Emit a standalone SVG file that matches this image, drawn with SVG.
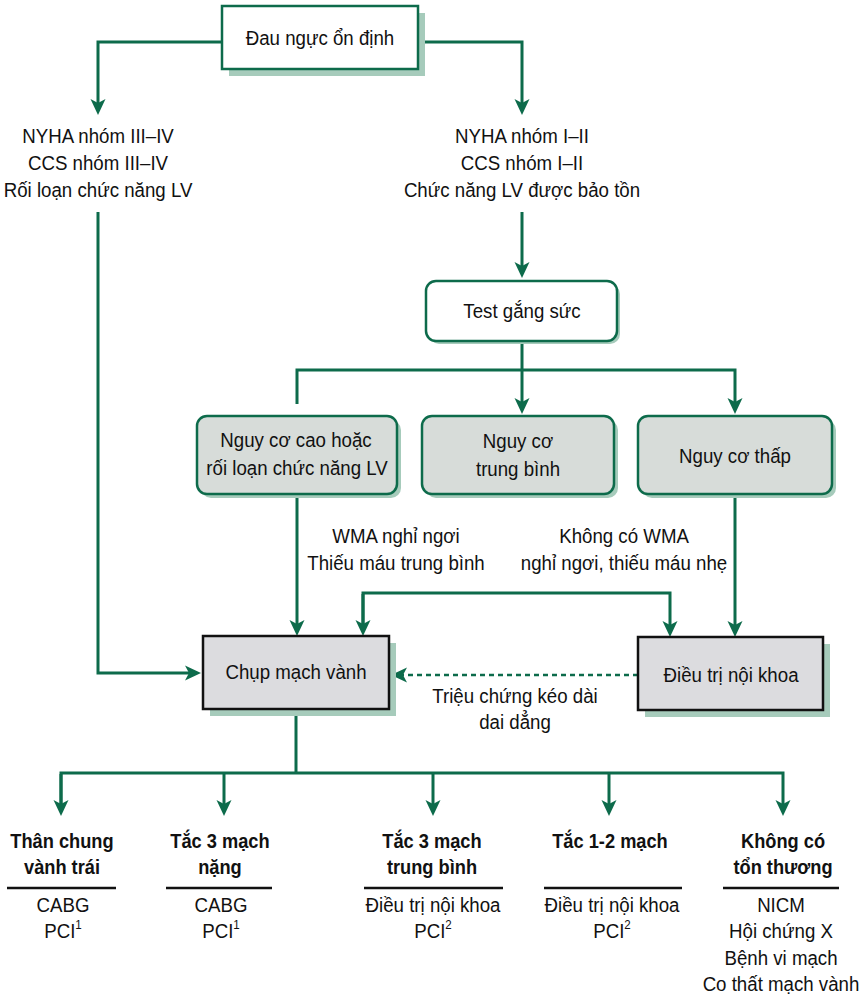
<svg xmlns="http://www.w3.org/2000/svg" width="861" height="1000" viewBox="0 0 861 1000">
<style>
text{font-family:"Liberation Sans",Arial,sans-serif;font-size:21px;fill:#111;text-anchor:middle;transform-box:fill-box;transform-origin:center;transform:scaleX(0.89)}
.b{font-weight:bold;font-size:20.5px}
.sup{font-size:13px}
.ln{fill:none;stroke:#0d6b4b;stroke-width:3}
.dash{fill:none;stroke:#0d6b4b;stroke-width:2.5;stroke-dasharray:5 4}
.sh{fill:#a6cbbb}
.gb{stroke:#0d6b4b;stroke-width:2.5}
.kb{fill:#dcdcdf;stroke:#111;stroke-width:2.5}
.rule{stroke:#111;stroke-width:2.5}
</style>
<defs>
<marker id="ah" markerWidth="16" markerHeight="16" viewBox="0 -8 16 16" refX="6" refY="0" orient="auto" markerUnits="userSpaceOnUse">
<path d="M0,-7.5 L16,0 L0,7.5 L4,0 Z" fill="#0d6b4b"/>
</marker>
</defs>

<g id="connectors">
<polyline class="ln" points="222,42 98,42 98,105" marker-end="url(#ah)"/>
<polyline class="ln" points="418,42 522,42 522,105" marker-end="url(#ah)"/>
<polyline class="ln" points="98,212 98,673 191,673" marker-end="url(#ah)"/>
<line class="ln" x1="522" y1="212" x2="522" y2="268" marker-end="url(#ah)"/>
<polyline class="ln" points="522,341 522,370"/>
<polyline class="ln" points="297,404 297,370 735,370 735,404" marker-end="url(#ah)"/>
<line class="ln" x1="522" y1="370" x2="522" y2="404" marker-end="url(#ah)"/>
<line class="ln" x1="297" y1="495" x2="297" y2="626" marker-end="url(#ah)"/>
<line class="ln" x1="735" y1="495" x2="735" y2="627" marker-end="url(#ah)"/>
<polyline class="ln" points="363,626 363,593 670,593 670,627" marker-end="url(#ah)"/>
<line class="ln" x1="363" y1="594" x2="363" y2="626" marker-end="url(#ah)"/>
<line class="dash" x1="638" y1="675" x2="401" y2="675" marker-end="url(#ah)"/>
<polyline class="ln" points="296,709 296,773"/>
<polyline class="ln" points="61,806 61,773 783,773 783,806" marker-end="url(#ah)"/>
<line class="ln" x1="61" y1="774" x2="61" y2="806" marker-end="url(#ah)"/>
<line class="ln" x1="224" y1="773" x2="224" y2="806" marker-end="url(#ah)"/>
<line class="ln" x1="433" y1="773" x2="433" y2="806" marker-end="url(#ah)"/>
<line class="ln" x1="609" y1="773" x2="609" y2="806" marker-end="url(#ah)"/>
</g>

<g id="n-start">
<rect class="sh" x="229" y="13" width="196" height="63"/>
<rect class="gb" x="222" y="6" width="196" height="63" fill="#fff"/>
<text x="320" y="45">Đau ngực ổn định</text>
</g>

<g id="n-left">
<text x="98" y="143">NYHA nhóm III–IV</text>
<text x="98" y="170">CCS nhóm III–IV</text>
<text x="98" y="197">Rối loạn chức năng LV</text>
</g>

<g id="n-right">
<text x="522" y="143">NYHA nhóm I–II</text>
<text x="522" y="170">CCS nhóm I–II</text>
<text x="522" y="197">Chức năng LV được bảo tồn</text>
</g>

<g id="n-test">
<rect class="sh" x="429" y="284" width="191" height="60" rx="10"/>
<rect class="gb" x="426" y="281" width="191" height="60" rx="10" fill="#fff"/>
<text x="522" y="318">Test gắng sức</text>
</g>

<g id="n-high">
<rect class="sh" x="201" y="420" width="200" height="78" rx="10"/>
<rect class="gb" x="197" y="416" width="200" height="78" rx="10" fill="#d7dcd9"/>
<text x="296" y="447">Nguy cơ cao hoặc</text>
<text x="297" y="475">rối loạn chức năng LV</text>
</g>

<g id="n-mid">
<rect class="sh" x="426" y="420" width="192" height="78" rx="10"/>
<rect class="gb" x="422" y="416" width="192" height="78" rx="10" fill="#d7dcd9"/>
<text x="518" y="448">Nguy cơ</text>
<text x="518" y="476">trung bình</text>
</g>

<g id="n-low">
<rect class="sh" x="642" y="420" width="194" height="78" rx="10"/>
<rect class="gb" x="638" y="416" width="194" height="78" rx="10" fill="#d7dcd9"/>
<text x="735" y="463">Nguy cơ thấp</text>
</g>

<g id="l-wma">
<text x="396" y="543">WMA nghỉ ngơi</text>
<text x="396" y="570">Thiếu máu trung bình</text>
</g>
<g id="l-nowma">
<text x="624" y="543">Không có WMA</text>
<text x="624" y="570">nghỉ ngơi, thiếu máu nhẹ</text>
</g>

<g id="n-cath">
<rect class="sh" x="210" y="643" width="186" height="73"/>
<rect class="kb" x="203" y="636" width="186" height="73"/>
<text x="296" y="679">Chụp mạch vành</text>
</g>

<g id="n-med">
<rect class="sh" x="645" y="644" width="185" height="73"/>
<rect class="kb" x="638" y="637" width="185" height="73"/>
<text x="731" y="682">Điều trị nội khoa</text>
</g>

<g id="l-sym">
<text x="515" y="703">Triệu chứng kéo dài</text>
<text x="515" y="729">dai dẳng</text>
</g>

<g id="o-lm">
<text class="b" x="62" y="848">Thân chung</text>
<text class="b" x="62" y="874">vành trái</text>
<line class="rule" x1="7" y1="888" x2="116" y2="888"/>
<text x="63" y="912">CABG</text>
<text x="63" y="938">PCI<tspan class="sup" dy="-9">1</tspan></text>
</g>

<g id="o-3s">
<text class="b" x="220" y="848">Tắc 3 mạch</text>
<text class="b" x="220" y="874">nặng</text>
<line class="rule" x1="166" y1="888" x2="272" y2="888"/>
<text x="221" y="912">CABG</text>
<text x="221" y="938">PCI<tspan class="sup" dy="-9">1</tspan></text>
</g>

<g id="o-3m">
<text class="b" x="432" y="848">Tắc 3 mạch</text>
<text class="b" x="432" y="874">trung bình</text>
<line class="rule" x1="364" y1="888" x2="503" y2="888"/>
<text x="433" y="912">Điều trị nội khoa</text>
<text x="433" y="938">PCI<tspan class="sup" dy="-9">2</tspan></text>
</g>

<g id="o-12">
<text class="b" x="610" y="848">Tắc 1-2 mạch</text>
<line class="rule" x1="544" y1="888" x2="682" y2="888"/>
<text x="612" y="912">Điều trị nội khoa</text>
<text x="612" y="938">PCI<tspan class="sup" dy="-9">2</tspan></text>
</g>

<g id="o-none">
<text class="b" x="783" y="848">Không có</text>
<text class="b" x="783" y="874">tổn thương</text>
<line class="rule" x1="723" y1="888" x2="839" y2="888"/>
<text x="781" y="912">NICM</text>
<text x="781" y="938">Hội chứng X</text>
<text x="781" y="965">Bệnh vi mạch</text>
<text x="781" y="991">Co thất mạch vành</text>
</g>
</svg>
